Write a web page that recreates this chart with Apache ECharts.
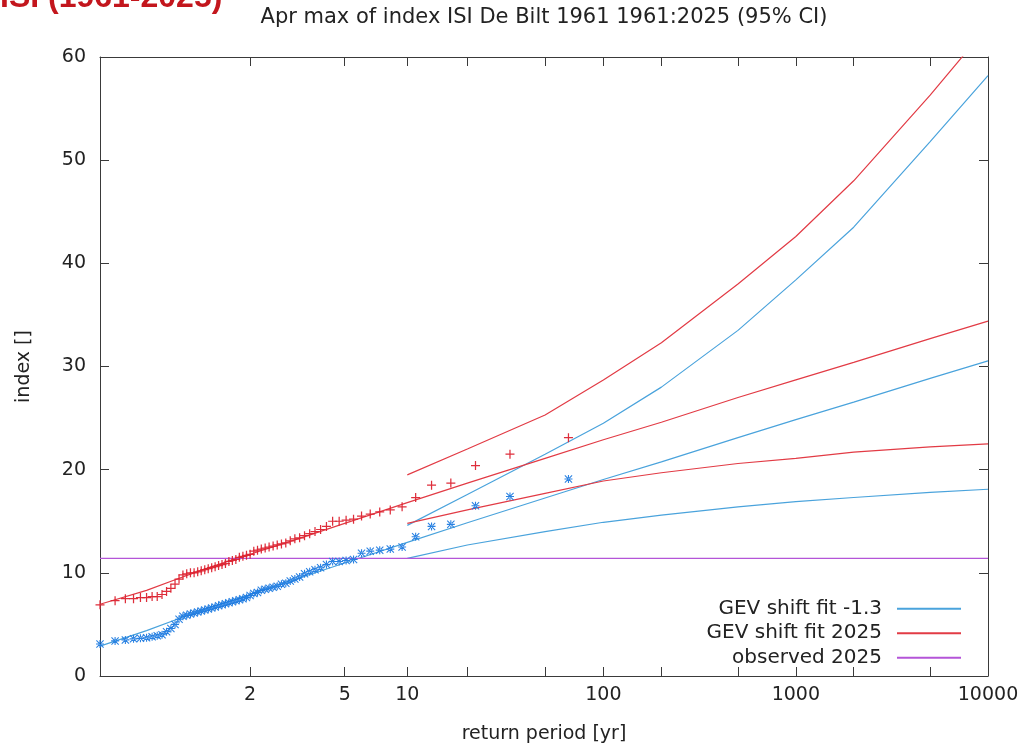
<!DOCTYPE html>
<html>
<head>
<meta charset="utf-8">
<script src="https://cdn.jsdelivr.net/npm/echarts@6/dist/echarts.min.js"></script>
<style>
html,body{margin:0;padding:0;background:#fff;}
#chart{width:1026px;height:751px;}
</style>
</head>
<body>
<div id="chart"></div>
<script>
// ---------------- data ----------------
const titleText = 'Apr max of index ISI De Bilt 1961 1961:2025 (95% CI)';
const cornerText = 'ISI (1961-2025)';
const xTickPeriods = [2, 5, 10, 20, 50, 100, 200, 500, 1000, 2000, 5000, 10000];
const xLabelPeriods = [2, 5, 10, 100, 1000, 10000];
const yMin = 0, yMax = 60, yStep = 10;
const nYears = 65;

// sorted annual maxima (ranked from smallest to largest), shifted to 2025 climate
const pts2025 = [6.9, 7.3, 7.5, 7.5, 7.6, 7.6, 7.7, 7.7, 7.9, 8.2,
  8.5, 8.9, 9.4, 9.8, 9.9, 10.0, 10.0, 10.1, 10.2, 10.3,
  10.4, 10.5, 10.6, 10.7, 10.8, 10.9, 11.1, 11.2, 11.3, 11.5,
  11.6, 11.7, 11.8, 12.1, 12.2, 12.3, 12.4, 12.5, 12.6, 12.7,
  12.8, 12.9, 13.1, 13.3, 13.4, 13.6, 13.8, 14.0, 14.2, 14.5,
  15.0, 15.0, 15.1, 15.2, 15.5, 15.7, 15.9, 16.1, 16.4, 17.3,
  18.5, 18.7, 20.4, 21.5, 23.1];
// same, shifted to the -1.3 climate
const ptsPast = [3.1, 3.4, 3.5, 3.6, 3.65, 3.7, 3.8, 3.9, 4.0, 4.3,
  4.6, 5.0, 5.5, 5.8, 5.9, 6.0, 6.1, 6.2, 6.3, 6.4,
  6.5, 6.6, 6.7, 6.8, 6.9, 7.0, 7.1, 7.2, 7.3, 7.4,
  7.5, 7.6, 7.8, 8.0, 8.1, 8.3, 8.4, 8.5, 8.6, 8.7,
  8.9, 9.0, 9.2, 9.4, 9.6, 9.9, 10.1, 10.3, 10.5, 10.8,
  11.1, 11.1, 11.2, 11.3, 11.9, 12.1, 12.2, 12.3, 12.5, 13.5,
  14.5, 14.7, 16.5, 17.4, 19.1];

// fitted return level curves
const fitPeriods = [1.0154, 1.1, 1.25, 1.5, 2, 3, 5, 10, 20, 50, 100, 200, 500, 1000, 2000, 5000, 10000];
const fit2025 = [6.95, 8.3, 9.5, 10.6, 11.8, 13.2, 14.8, 16.8, 18.7, 21.1, 22.9, 24.6, 27.0, 28.7, 30.4, 32.7, 34.4];
const fitPast = [2.9, 4.4, 5.6, 6.7, 7.9, 9.35, 10.95, 12.95, 14.85, 17.25, 19.05, 20.75, 23.1, 24.85, 26.55, 28.85, 30.55];

// 95% confidence bounds
const ciPeriods = [10, 20, 50, 100, 200, 500, 1000, 2000, 5000, 10000];
const hi2025 = [19.5, 22.0, 25.3, 28.7, 32.3, 38.0, 42.6, 48.0, 56.3, 63.0];
const lo2025 = [14.8, 16.1, 17.7, 18.9, 19.7, 20.6, 21.1, 21.7, 22.2, 22.5];
const hiPast = [14.6, 17.6, 21.5, 24.5, 28.0, 33.5, 38.4, 43.5, 51.8, 58.2];
const loPast = [11.4, 12.7, 14.0, 14.9, 15.6, 16.4, 16.9, 17.3, 17.8, 18.1];

const observed2025 = 11.4;

// ---------------- helpers ----------------
// Gumbel reduced variate of a return period (the x scale of the plot)
function gumbel(T) { return -Math.log(-Math.log(1 - 1 / T)); }
const gMin = gumbel((nYears + 1) / nYears);
const gMax = gumbel(10000);
const tickG = xTickPeriods.map(gumbel);
const labelG = xLabelPeriods.map(gumbel);
function labelFor(v) {
  let best = 0, bd = Infinity;
  labelG.forEach((g, i) => { const d = Math.abs(g - v); if (d < bd) { bd = d; best = i; } });
  return String(xLabelPeriods[best]);
}
// empirical return period of the ranked observations
function rankPeriod(i) { return (nYears + 1) / (nYears + 1 - (i + 1)); }
const toPairs = (periods, vals) => vals.map((v, i) => [gumbel(periods[i]), v]);
const ptPairs = vals => vals.map((v, i) => [gumbel(rankPeriod(i)), v]);

const FONT = 'DejaVu Sans';
const BLUE_LINE = '#4aa3dc';
const RED_LINE = '#e23b45';
const BLUE_PT = '#1f7be0';
const RED_PT = '#dc2330';
const PURPLE = '#b455d8';
const AXIS = '#3a3a3a';

const plusPath = 'path://M3.45,0H4.55V3.45H8V4.55H4.55V8H3.45V4.55H0V3.45H3.45Z';
const starPath = 'path://M3.45,0H4.55V3.45H8V4.55H4.55V8H3.45V4.55H0V3.45H3.45Z' +
  'M0,0.75L0.75,0L8,7.25L7.25,8Z M8,0.75L7.25,0L0,7.25L0.75,8Z';

function lineSeries(name, data, color) {
  return {
    name: name, type: 'line', data: data, symbol: 'none', smooth: false,
    lineStyle: { color: color, width: 1.2 }, itemStyle: { color: color }, clip: true, z: 2
  };
}

const chart = echarts.init(document.getElementById('chart'), null, { renderer: 'canvas' });
const option = {
  animation: false,
  backgroundColor: '#ffffff',
  textStyle: { fontFamily: FONT },
  title: {
    text: titleText, left: 544, top: 7, textAlign: 'center', padding: 0,
    textStyle: { fontFamily: FONT, fontSize: 21, fontWeight: 'normal', color: '#222' }
  },
  graphic: [{
    type: 'text', left: 0, top: -18, silent: true,
    style: { text: cornerText, fontFamily: 'Liberation Sans', fontWeight: 'bold', fontSize: 32, fill: '#c3161d' }
  }],
  grid: { left: 100, right: 38, top: 57, bottom: 75, containLabel: false },
  legend: {
    data: ['GEV shift fit -1.3', 'GEV shift fit 2025', 'observed 2025'],
    orient: 'vertical', align: 'right', right: 60, top: 592,
    icon: 'rect', itemWidth: 64, itemHeight: 2, itemGap: 1,
    textStyle: { fontFamily: FONT, fontSize: 20, color: '#222', lineHeight: 23.5, padding: [0, 10, 0, 0] },
    selectedMode: false
  },
  xAxis: [{
    type: 'value', min: gMin, max: gMax, position: 'bottom',
    name: 'return period [yr]', nameLocation: 'middle', nameGap: 49,
    nameTextStyle: { fontFamily: FONT, fontSize: 19, color: '#222' },
    axisLine: { show: true, onZero: false, lineStyle: { color: AXIS, width: 1 } },
    axisTick: { show: true, inside: true, length: 9, customValues: tickG, lineStyle: { color: AXIS } },
    axisLabel: { customValues: labelG, formatter: labelFor, margin: 10, fontFamily: FONT, fontSize: 19, color: '#222' },
    splitLine: { show: false }
  }, {
    type: 'value', min: gMin, max: gMax, position: 'top',
    axisLine: { show: true, onZero: false, lineStyle: { color: AXIS, width: 1 } },
    axisTick: { show: true, inside: true, length: 9, customValues: tickG, lineStyle: { color: AXIS } },
    axisLabel: { show: false }, splitLine: { show: false }
  }],
  yAxis: [{
    type: 'value', min: yMin, max: yMax, interval: yStep, position: 'left',
    name: 'index []', nameLocation: 'middle', nameGap: 66, nameRotate: 90,
    nameTextStyle: { fontFamily: FONT, fontSize: 19, color: '#222' },
    axisLine: { show: true, onZero: false, lineStyle: { color: AXIS, width: 1 } },
    axisTick: { show: true, inside: true, length: 9, lineStyle: { color: AXIS } },
    axisLabel: { margin: 14, fontFamily: FONT, fontSize: 19, color: '#222' },
    splitLine: { show: false }
  }, {
    type: 'value', min: yMin, max: yMax, interval: yStep, position: 'right',
    axisLine: { show: true, onZero: false, lineStyle: { color: AXIS, width: 1 } },
    axisTick: { show: true, inside: true, length: 9, lineStyle: { color: AXIS } },
    axisLabel: { show: false }, splitLine: { show: false }
  }],
  series: [
    lineSeries('GEV shift fit -1.3', toPairs(fitPeriods, fitPast), BLUE_LINE),
    lineSeries('GEV shift fit -1.3', toPairs(ciPeriods, hiPast), BLUE_LINE),
    lineSeries('GEV shift fit -1.3', toPairs(ciPeriods, loPast), BLUE_LINE),
    lineSeries('GEV shift fit 2025', toPairs(fitPeriods, fit2025), RED_LINE),
    lineSeries('GEV shift fit 2025', toPairs(ciPeriods, hi2025), RED_LINE),
    lineSeries('GEV shift fit 2025', toPairs(ciPeriods, lo2025), RED_LINE),
    {
      name: 'observed 2025', type: 'line', symbol: 'none',
      data: [[gMin, observed2025], [gMax, observed2025]],
      lineStyle: { color: PURPLE, width: 1.4 }, itemStyle: { color: PURPLE }, z: 2
    },
    {
      name: 'points -1.3', type: 'scatter', data: ptPairs(ptsPast), symbol: starPath, symbolSize: 8,
      itemStyle: { color: BLUE_PT, opacity: 0.95 }, z: 3
    },
    {
      name: 'points 2025', type: 'scatter', data: ptPairs(pts2025), symbol: plusPath, symbolSize: 9,
      itemStyle: { color: RED_PT, opacity: 0.95 }, z: 3
    }
  ]
};
chart.setOption(option);
</script>
</body>
</html>
